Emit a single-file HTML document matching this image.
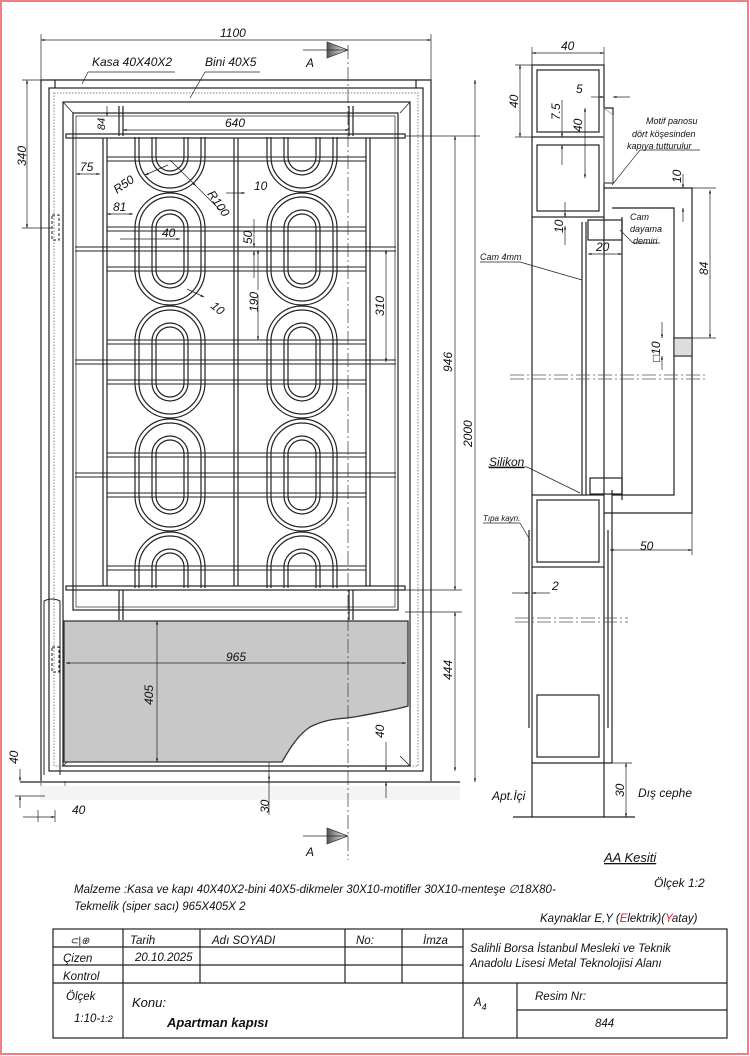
<!DOCTYPE html>
<html><head><meta charset="utf-8"><style>
html,body{margin:0;padding:0;background:#fff}
svg{display:block}
text{font-family:"Liberation Sans",sans-serif;font-style:italic;fill:#111}
</style></head><body>
<svg width="750" height="1056" viewBox="0 0 750 1056" xmlns="http://www.w3.org/2000/svg">
<defs>
<clipPath id="cp"><rect x="74" y="137" width="324" height="451"/></clipPath>
<marker id="ar" viewBox="0 0 10 10" refX="10" refY="5" markerWidth="7" markerHeight="5" orient="auto-start-reverse"><path d="M0,2 L10,5 L0,8z" fill="#111"/></marker>
<g id="ov" fill="none" stroke="#222" stroke-width="1.2">
<rect x="-35" y="-56" width="70" height="112" rx="35"/>
<rect x="-31" y="-52" width="62" height="104" rx="31"/>
<rect x="-18" y="-39" width="36" height="78" rx="18"/>
<rect x="-14" y="-35" width="28" height="70" rx="14"/>
</g>
<linearGradient id="gA" x1="0" x2="1"><stop offset="0" stop-color="#555"/><stop offset="1" stop-color="#fff"/></linearGradient>
</defs>
<rect x="1" y="1" width="747" height="1053" fill="none" stroke="#f08080" stroke-width="2"/>

<!-- FRONT VIEW -->
<g fill="none" stroke="#222" stroke-width="1.2">
<path d="M41,781 V80 H431 V781"/>
<path d="M55,80 V88 M416,80 V88"/>
<rect x="49" y="88" width="374" height="683"/>
<rect x="54" y="93" width="364" height="673" stroke="#999" stroke-dasharray="1.5 1.5"/>
<rect x="63" y="102" width="347" height="664"/>
<path d="M63,102 L73,113 M410,102 L400,113 M63,766 L73,756 M410,766 L400,756" stroke-width="0.8"/>
<rect x="73" y="113" width="325" height="497"/>
<rect x="76" y="116" width="319" height="491" stroke-width="0.7"/>
<!-- bars -->
<rect x="66" y="134" width="339" height="4"/>
<rect x="66" y="586" width="339" height="4"/>
<path d="M119,106 V136 M123,106 V136 M349,106 V136 M353,106 V136"/>
<path d="M119,590 V620 M123,590 V620 M349,590 V620 M353,590 V620"/>
<!-- verticals -->
<path d="M103,138 V586 M107,138 V586 M234,138 V586 M238,138 V586 M366,138 V586 M370,138 V586" />
</g>
<g fill="none" stroke="#222" stroke-width="1" clip-path="url(#cp)">
<g id="rods">
<path d="M107,157 H366 M107,161 H366"/>
<path d="M107,227 H366 M107,231 H366 M75,247 H396 M75,251 H396 M107,267 H366 M107,271 H366"/>
<path d="M107,340 H366 M107,344 H366 M75,360 H396 M75,364 H396 M107,380 H366 M107,384 H366"/>
<path d="M107,453 H366 M107,457 H366 M75,473 H396 M75,477 H396 M107,493 H366 M107,497 H366"/>
<path d="M107,566 H366 M107,570 H366"/>
</g>
<g fill="#fff">
<use href="#ov" x="170" y="136"/><use href="#ov" x="302" y="136"/>
<use href="#ov" x="170" y="249"/><use href="#ov" x="302" y="249"/>
<use href="#ov" x="170" y="362"/><use href="#ov" x="302" y="362"/>
<use href="#ov" x="170" y="475"/><use href="#ov" x="302" y="475"/>
<use href="#ov" x="170" y="588"/><use href="#ov" x="302" y="588"/>
</g>
</g>
<!-- gray panel -->
<path d="M64,621 H408 V706 C395,710 380,712 360,716 C340,720 330,717 310,727 C298,735 290,748 282,762 H64 Z" fill="#c8c8c8" stroke="#333" stroke-width="1.3"/>
<!-- hinges -->
<g fill="none" stroke="#222" stroke-width="1">
<rect x="52" y="215" width="7" height="25" stroke-dasharray="3 2"/>
<rect x="52" y="647" width="7" height="25" stroke-dasharray="3 2"/>
<path d="M44,601 V775 M60,601 V775 M44,601 Q52,597 60,601" />
<path d="M41,783 v10 q0,6 8,6 h10 q6,0 6,-6 v-12" stroke="#777"/>
</g>
<!-- ground -->
<line x1="20" y1="782" x2="460" y2="782" stroke="#222" stroke-width="1.3"/>
<g fill="#aaa"><rect x="40" y="786" width="420" height="14" fill="#f4f4f4"/></g>
<!-- center line A -->
<line x1="348" y1="45" x2="348" y2="860" stroke="#333" stroke-width="0.7" stroke-dasharray="14 3 2 3"/>
<path d="M327,42 L348,50 L327,58 Z" fill="url(#gA)" stroke="#333" stroke-width="0.7"/>
<line x1="303" y1="50" x2="348" y2="50" stroke="#222" stroke-width="0.8"/>
<text x="306" y="67" font-size="12">A</text>
<path d="M327,828 L348,836 L327,844 Z" fill="url(#gA)" stroke="#333" stroke-width="0.7"/>
<line x1="303" y1="836" x2="348" y2="836" stroke="#222" stroke-width="0.8"/>
<text x="306" y="856" font-size="12">A</text>

<!-- dimensions front -->
<g stroke="#222" stroke-width="0.7" fill="none">
<line x1="41" y1="40" x2="431" y2="40" marker-start="url(#ar)" marker-end="url(#ar)"/>
<line x1="41" y1="34" x2="41" y2="80"/><line x1="431" y1="34" x2="431" y2="80"/>
<line x1="27" y1="80" x2="27" y2="228" marker-start="url(#ar)" marker-end="url(#ar)"/>
<line x1="22" y1="228" x2="52" y2="228"/>
<line x1="22" y1="80" x2="41" y2="80"/>
<line x1="455" y1="136" x2="455" y2="590" marker-start="url(#ar)" marker-end="url(#ar)"/>
<line x1="455" y1="612" x2="455" y2="771" marker-start="url(#ar)" marker-end="url(#ar)"/>
<line x1="475" y1="80" x2="475" y2="782" marker-start="url(#ar)" marker-end="url(#ar)"/>
<line x1="405" y1="136" x2="480" y2="136"/>
<line x1="405" y1="590" x2="462" y2="590"/>
<line x1="405" y1="612" x2="462" y2="612"/>
<line x1="123" y1="130" x2="349" y2="130" marker-start="url(#ar)" marker-end="url(#ar)"/>
<line x1="76" y1="174" x2="100" y2="174" marker-start="url(#ar)" marker-end="url(#ar)"/>
<line x1="107" y1="214" x2="133" y2="214" marker-start="url(#ar)" marker-end="url(#ar)"/>
<line x1="120" y1="239" x2="180" y2="239" marker-end="url(#ar)"/>
<line x1="226" y1="193" x2="245" y2="193" marker-end="url(#ar)"/>
<line x1="254" y1="219" x2="254" y2="247" marker-end="url(#ar)"/>
<line x1="254" y1="278" x2="254" y2="251" marker-end="url(#ar)"/>
<line x1="258" y1="295" x2="258" y2="340" marker-end="url(#ar)"/>
<line x1="258" y1="290" x2="258" y2="250" marker-end="url(#ar)"/>
<line x1="386" y1="250" x2="386" y2="362" marker-start="url(#ar)" marker-end="url(#ar)"/>
<line x1="168" y1="165" x2="145" y2="175" marker-end="url(#ar)"/>
<line x1="170" y1="160" x2="196" y2="186" marker-end="url(#ar)"/>
<line x1="196" y1="186" x2="220" y2="210"/>
<line x1="187" y1="289" x2="204" y2="297" marker-end="url(#ar)"/>
<line x1="107" y1="106" x2="107" y2="116" marker-end="url(#ar)"/>
<line x1="157" y1="621" x2="157" y2="762" marker-start="url(#ar)" marker-end="url(#ar)"/>
<line x1="66" y1="663" x2="406" y2="663" marker-start="url(#ar)" marker-end="url(#ar)"/>
<line x1="269" y1="762" x2="269" y2="815"/>
<line x1="269" y1="775" x2="269" y2="784" marker-start="url(#ar)"/>
<line x1="386" y1="742" x2="386" y2="771" marker-end="url(#ar)"/>
<line x1="386" y1="798" x2="386" y2="782" marker-end="url(#ar)"/>
<line x1="20" y1="769" x2="20" y2="781" marker-end="url(#ar)"/>
<line x1="20" y1="808" x2="20" y2="796" marker-end="url(#ar)"/>
<line x1="15" y1="796" x2="45" y2="796"/>
<line x1="23" y1="817" x2="55" y2="817" marker-end="url(#ar)"/>
<line x1="55" y1="810" x2="55" y2="822"/><line x1="38" y1="810" x2="38" y2="822"/>
<line x1="88" y1="72" x2="175" y2="72"/><line x1="88" y1="72" x2="82" y2="84"/>
<line x1="205" y1="72" x2="260" y2="72"/><line x1="205" y1="72" x2="190" y2="98"/>
</g>
<g font-size="12">
<text x="220" y="37">1100</text>
<text x="92" y="66">Kasa 40X40X2</text>
<text x="205" y="66">Bini 40X5</text>
<text x="225" y="127">640</text>
<text x="80" y="171">75</text>
<text x="113" y="211">81</text>
<text x="162" y="237">40</text>
<text x="254" y="190">10</text>
<text x="210" y="307" transform="rotate(40 210 307)">10</text>
<text x="117" y="194" transform="rotate(-35 117 194)">R50</text>
<text x="207" y="194" transform="rotate(55 207 194)">R100</text>
<text transform="translate(252,244) rotate(-90)">50</text>
<text transform="translate(258,312) rotate(-90)">190</text>
<text transform="translate(384,316) rotate(-90)">310</text>
<text transform="translate(105,130) rotate(-90)" font-size="11">84</text>
<text transform="translate(26,166) rotate(-90)">340</text>
<text transform="translate(452,372) rotate(-90)">946</text>
<text transform="translate(472,447) rotate(-90)">2000</text>
<text transform="translate(452,680) rotate(-90)">444</text>
<text transform="translate(153,705) rotate(-90)">405</text>
<text x="226" y="661">965</text>
<text transform="translate(384,738) rotate(-90)">40</text>
<text transform="translate(269,813) rotate(-90)">30</text>
<text transform="translate(18,764) rotate(-90)">40</text>
<text x="72" y="814">40</text>
</g>

<!-- SECTION VIEW -->
<g fill="none" stroke="#222" stroke-width="1.2">
<rect x="532" y="65" width="72" height="152"/>
<line x1="532" y1="137" x2="604" y2="137"/>
<rect x="537" y="70" width="62" height="62" />
<rect x="537" y="145" width="62" height="66"/>
<path d="M604,108 H613 V183 H604"/>
<path d="M604,188 H692 V513 H604 M612,208 H674 V495 H612"/>
<rect x="674" y="338" width="18" height="18" />
<path d="M532,217 V495 M604,217 V495 M622,217 V500"/>
<path d="M582,222 V495 M586,222 V495"/>
<rect x="588" y="220" width="34" height="20"/>
<rect x="590" y="478" width="32" height="16"/>
<rect x="532" y="495" width="72" height="72"/>
<rect x="537" y="500" width="62" height="62"/>
<path d="M532,567 V763 M604,567 V763"/>
<path d="M529,530 V728 M608,530 V728 M612,490 V763" />
<rect x="537" y="695" width="62" height="62"/>
<path d="M532,763 H612" />
<path d="M532,763 V817 M604,763 V817"/>
<line x1="513" y1="817" x2="635" y2="817"/>
</g>
<path d="M613,115 V183 H604 V108Z" fill="none" stroke="#888" stroke-width="0.6"/>
<rect x="674" y="338" width="18" height="18" fill="#ddd" stroke="#222"/>
<g stroke="#555" stroke-width="0.7" stroke-dasharray="14 3 2 3">
<line x1="510" y1="375" x2="705" y2="375"/><line x1="510" y1="379" x2="705" y2="379"/>
<line x1="515" y1="618" x2="628" y2="618"/><line x1="515" y1="622" x2="628" y2="622"/>
</g>
<g stroke="#222" stroke-width="0.7" fill="none">
<line x1="532" y1="53" x2="604" y2="53" marker-start="url(#ar)" marker-end="url(#ar)"/>
<line x1="532" y1="47" x2="532" y2="65"/><line x1="604" y1="47" x2="604" y2="65"/>
<line x1="520" y1="65" x2="520" y2="137" marker-start="url(#ar)" marker-end="url(#ar)"/>
<line x1="515" y1="65" x2="532" y2="65"/><line x1="515" y1="137" x2="532" y2="137"/>
<line x1="591" y1="97" x2="604" y2="97" marker-end="url(#ar)"/>
<line x1="630" y1="97" x2="613" y2="97" marker-end="url(#ar)"/>
<line x1="562" y1="100" x2="562" y2="137" marker-end="url(#ar)"/>
<line x1="562" y1="165" x2="562" y2="145" marker-end="url(#ar)"/>
<line x1="585" y1="108" x2="585" y2="178" marker-start="url(#ar)" marker-end="url(#ar)"/>
<line x1="565" y1="202" x2="565" y2="217" marker-end="url(#ar)"/>
<line x1="565" y1="245" x2="565" y2="226" marker-end="url(#ar)"/>
<line x1="588" y1="254" x2="622" y2="254" marker-start="url(#ar)" marker-end="url(#ar)"/>
<line x1="683" y1="174" x2="683" y2="188" marker-end="url(#ar)"/>
<line x1="683" y1="222" x2="683" y2="208" marker-end="url(#ar)"/>
<line x1="710" y1="190" x2="710" y2="338" marker-start="url(#ar)" marker-end="url(#ar)"/>
<line x1="692" y1="188" x2="716" y2="188"/><line x1="692" y1="338" x2="716" y2="338"/>
<line x1="662" y1="322" x2="662" y2="338" marker-end="url(#ar)"/>
<line x1="662" y1="370" x2="662" y2="356" marker-end="url(#ar)"/>
<line x1="610" y1="550" x2="692" y2="550" marker-start="url(#ar)" marker-end="url(#ar)"/>
<line x1="692" y1="513" x2="692" y2="555"/>
<line x1="512" y1="593" x2="529" y2="593" marker-end="url(#ar)"/>
<line x1="550" y1="593" x2="532" y2="593" marker-end="url(#ar)"/>
<line x1="626" y1="763" x2="626" y2="817" marker-start="url(#ar)" marker-end="url(#ar)"/>
<line x1="612" y1="763" x2="632" y2="763"/>
<line x1="700" y1="150" x2="640" y2="150"/><line x1="640" y1="150" x2="612" y2="185"/>
<line x1="633" y1="243" x2="660" y2="243"/><line x1="633" y1="243" x2="620" y2="230"/>
<line x1="480" y1="262" x2="520" y2="262"/><line x1="520" y1="262" x2="582" y2="280"/>
<line x1="488" y1="467" x2="527" y2="467"/><line x1="527" y1="467" x2="580" y2="493"/>
<line x1="483" y1="523" x2="520" y2="523"/><line x1="520" y1="523" x2="530" y2="540"/>
</g>
<g font-size="12">
<text x="561" y="50">40</text>
<text transform="translate(518,108) rotate(-90)">40</text>
<text x="576" y="93">5</text>
<text transform="translate(560,120) rotate(-90)">7.5</text>
<text transform="translate(582,132) rotate(-90)">40</text>
<text transform="translate(563,233) rotate(-90)">10</text>
<text x="596" y="251">20</text>
<text transform="translate(681,183) rotate(-90)">10</text>
<text transform="translate(708,275) rotate(-90)">84</text>
<text transform="translate(660,362) rotate(-90)">□10</text>
<text x="640" y="550">50</text>
<text x="552" y="590">2</text>
<text transform="translate(624,797) rotate(-90)">30</text>
<text x="492" y="800">Apt.İçi</text>
<text x="638" y="797">Dış cephe</text>
<text x="489" y="466" text-decoration="underline">Silikon</text>
<text x="604" y="862" font-size="13" text-decoration="underline">AA Kesiti</text>
<text x="654" y="887">Ölçek 1:2</text>
</g>
<g font-size="9">
<text x="646" y="124">Motif panosu</text>
<text x="632" y="137">dört köşesinden</text>
<text x="627" y="149">kapıya tutturulur</text>
<text x="630" y="220">Cam</text>
<text x="630" y="232">dayama</text>
<text x="633" y="244">demiri</text>
<text x="480" y="260">Cam 4mm</text>
<text x="483" y="521" font-size="8">Tıpa kayn.</text>
</g>

<!-- notes -->
<g font-size="11.5">
<text x="74" y="893">Malzeme :Kasa ve kapı 40X40X2-bini 40X5-dikmeler 30X10-motifler 30X10-menteşe ∅18X80-</text>
<text x="74" y="910">Tekmelik (siper sacı) 965X405X 2</text>
<text x="540" y="922">Kaynaklar E,Y (<tspan fill="#e02020">E</tspan>lektrik)(<tspan fill="#e02020">Y</tspan>atay)</text>
</g>

<!-- title block -->
<g fill="none" stroke="#222" stroke-width="1.2">
<rect x="53" y="929" width="674" height="109"/>
<path d="M123,929 V1038 M200,929 V983 M345,929 V983 M402,929 V983 M463,929 V1038 M517,983 V1038"/>
<path d="M53,947 H463 M53,965 H463 M53,983 H727 M517,1010 H727"/>
</g>
<g font-size="11.5">
<text x="70" y="944" font-size="10" font-style="normal">⊂|⊕</text>
<text x="130" y="944">Tarih</text>
<text x="212" y="944">Adı SOYADI</text>
<text x="356" y="944">No:</text>
<text x="423" y="944">İmza</text>
<text x="63" y="962">Çizen</text>
<text x="135" y="961">20.10.2025</text>
<text x="63" y="980">Kontrol</text>
<text x="470" y="952">Salihli Borsa İstanbul Mesleki ve Teknik</text>
<text x="470" y="967">Anadolu Lisesi    Metal Teknolojisi Alanı</text>
<text x="66" y="1000">Ölçek</text>
<text x="74" y="1022">1:10-<tspan font-size="9">1:2</tspan></text>
<text x="132" y="1007" font-size="13">Konu:</text>
<text x="167" y="1027" font-size="13" font-weight="bold">Apartman kapısı</text>
<text x="474" y="1006">A<tspan font-size="9" dy="4">4</tspan></text>
<text x="535" y="1000">Resim Nr:</text>
<text x="595" y="1027">844</text>
</g>
</svg>
</body></html>
